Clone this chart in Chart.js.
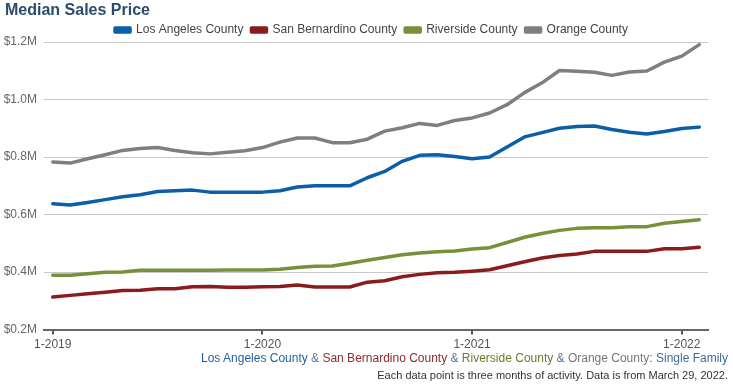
<!DOCTYPE html>
<html>
<head>
<meta charset="utf-8">
<script src="https://cdn.jsdelivr.net/npm/chart.js@4"></script>
<style>
  body { margin: 0; background: #fff; font-family: "Liberation Sans", Arial, sans-serif; }
  #wrap { position: relative; width: 733px; height: 385px; }
  #chart-box { position: absolute; left: 0; top: 0; width: 733px; height: 355px; }
  #title { position: absolute; left: 5px; top: 0; font-size: 16px; line-height: 20px; font-weight: bold; color: #2b4a6c; }
  .note { position: absolute; right: 5px; white-space: nowrap; }
  #source { top: 351px; font-size: 12px; }
  #footnote { top: 369px; font-size: 11px; color: #333; }
</style>
</head>
<body>
<div id="wrap">
  <div id="chart-box"><canvas id="price"></canvas></div>
  <div id="title">Median Sales Price</div>
  <div id="source" class="note">
    <span style="color:#1f5f9f">Los Angeles County</span><span style="color:#4f74a0"> &amp; </span><span style="color:#8b2b2b">San Bernardino County</span><span style="color:#4f74a0"> &amp; </span><span style="color:#6b7d2c">Riverside County</span><span style="color:#4f74a0"> &amp; </span><span style="color:#777">Orange County</span><span style="color:#3d6c9f">: Single Family</span>
  </div>
  <div id="footnote" class="note">Each data point is three months of activity. Data is from March 29, 2022.</div>
</div>
<script>
  // months 1-2019 .. 2-2022
  const months = [];
  for (let y = 2019; y <= 2022; y++) {
    for (let m = 1; m <= 12; m++) {
      if (y === 2022 && m > 2) break;
      months.push(`${m}-${y}`);
    }
  }

  // median price, $M
  const losAngeles = [0.638, 0.633, 0.642, 0.652, 0.662, 0.669, 0.680, 0.683, 0.685, 0.678,
    0.678, 0.678, 0.678, 0.683, 0.696, 0.700, 0.700, 0.700, 0.728, 0.750,
    0.785, 0.806, 0.808, 0.802, 0.794, 0.800, 0.835, 0.870, 0.885, 0.900,
    0.906, 0.908, 0.896, 0.886, 0.880, 0.889, 0.899, 0.904];
  const sanBernardino = [0.313, 0.319, 0.325, 0.330, 0.336, 0.337, 0.342, 0.342, 0.349, 0.350,
    0.347, 0.347, 0.349, 0.350, 0.355, 0.348, 0.348, 0.348, 0.365, 0.370,
    0.384, 0.392, 0.398, 0.399, 0.403, 0.408, 0.422, 0.436, 0.449, 0.458,
    0.463, 0.472, 0.472, 0.472, 0.472, 0.481, 0.481, 0.486];
  const riverside = [0.389, 0.389, 0.394, 0.399, 0.400, 0.406, 0.406, 0.406, 0.406, 0.406,
    0.407, 0.407, 0.407, 0.410, 0.416, 0.420, 0.421, 0.431, 0.441, 0.451,
    0.460, 0.466, 0.471, 0.473, 0.480, 0.485, 0.503, 0.521, 0.534, 0.545,
    0.552, 0.554, 0.554, 0.558, 0.558, 0.570, 0.576, 0.582];
  const orange = [0.783, 0.779, 0.794, 0.808, 0.823, 0.830, 0.833, 0.823, 0.815, 0.811,
    0.817, 0.822, 0.833, 0.852, 0.866, 0.866, 0.850, 0.850, 0.862, 0.890,
    0.902, 0.917, 0.910, 0.927, 0.936, 0.953, 0.982, 1.024, 1.058, 1.101,
    1.098, 1.095, 1.084, 1.096, 1.099, 1.130, 1.151, 1.191];

  const yTicks = [0.2, 0.4, 0.6, 0.8, 1.0, 1.2];

  function series(label, data, color) {
    return {
      label, data,
      borderColor: color, backgroundColor: color,
      borderWidth: 3.5, pointRadius: 0, tension: 0,
      borderCapStyle: "round", borderJoinStyle: "round",
    };
  }

  // legend padding also sets the gap between items; trim the extra height it adds
  // and nudge it a few px right like the original
  const tightLegend = {
    id: "tightLegend",
    beforeInit(chart) {
      const lg = chart.legend;
      const fit = lg.fit;
      lg.fit = function() {
        fit.call(this);
        this.height -= 4;
      };
      const draw = lg.draw;
      lg.draw = function() {
        this.left += 5; this.right += 5;
        draw.call(this);
        this.left -= 5; this.right -= 5;
      };
    },
  };

  new Chart(document.getElementById("price"), {
    type: "line",
    data: {
      labels: months,
      datasets: [
        series("Los Angeles County", losAngeles, "#0b5ea8"),
        series("San Bernardino County", sanBernardino, "#8a1c1c"),
        series("Riverside County", riverside, "#76913a"),
        series("Orange County", orange, "#7f7f7f"),
      ],
    },
    plugins: [tightLegend],
    options: {
      responsive: true,
      maintainAspectRatio: false,
      animation: false,
      layout: { padding: { left: 0, right: 0, top: 16, bottom: 0 } },
      plugins: {
        legend: {
          position: "top",
          labels: {
            color: "#444", boxWidth: 15, boxHeight: 4, padding: 8,
            font: { family: "Liberation Sans", size: 12 },
          },
        },
        tooltip: { enabled: false },
      },
      scales: {
        x: {
          offset: true,
          grid: {
            offset: false, drawOnChartArea: false, drawTicks: true, tickLength: 5,
            color: (ctx) => (ctx.index % 12 === 0 ? "#555" : "rgba(0,0,0,0)"),
            lineWidth: 2,
          },
          border: { color: "#666", width: 2 },
          ticks: {
            autoSkip: false, maxRotation: 0, color: "#555", padding: 3,
            font: { family: "Liberation Sans", size: 12 },
            callback: (v, i) => (i % 12 === 0 ? months[i] : ""),
          },
        },
        y: {
          min: 0.2, max: 1.2,
          afterFit: (scale) => { scale.width = 44; },
          afterBuildTicks: (scale) => { scale.ticks = yTicks.map((v) => ({ value: v })); },
          grid: { color: "#c8c8c8", lineWidth: 1, drawTicks: false },
          border: { display: false },
          ticks: {
            color: "#666", padding: 7,
            font: { family: "Liberation Sans", size: 12 },
            callback: (v) => "$" + v.toFixed(1) + "M",
          },
        },
        // empty right-hand strip so the legend stays centred on the page
        spacer: {
          position: "right", min: 0, max: 1,
          afterFit: (scale) => { scale.width = 25; },
          grid: { display: false }, border: { display: false },
          ticks: { display: false },
        },
      },
    },
  });
</script>
</body>
</html>
